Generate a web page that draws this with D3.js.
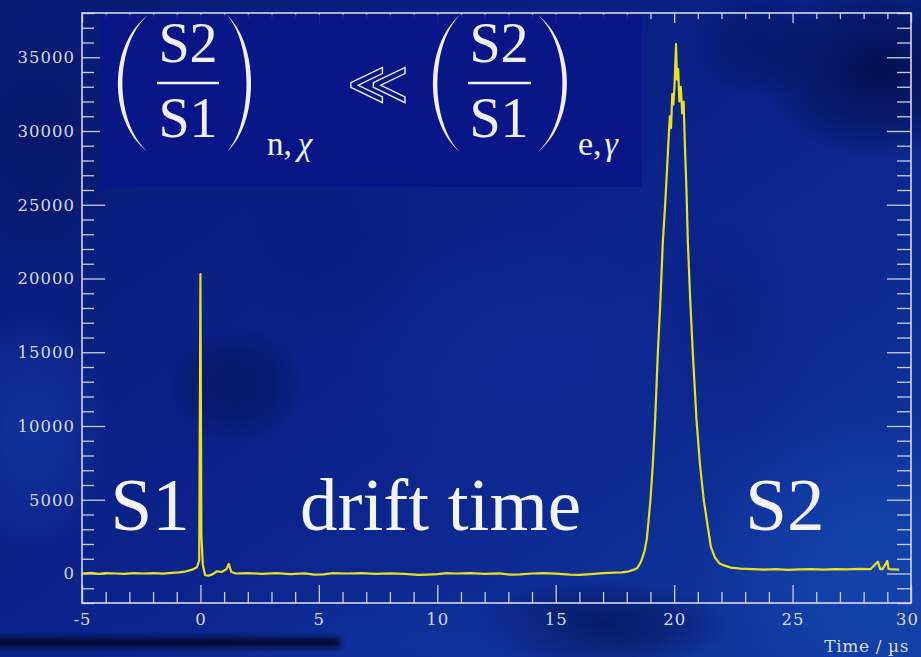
<!DOCTYPE html>
<html><head><meta charset="utf-8">
<script src="https://cdn.jsdelivr.net/npm/d3@7"></script>
<style>body{margin:0;background:#0b2088;} svg{display:block}</style>
</head><body><svg id="c" width="921" height="657"></svg>
<script>
// ---- data ----
const times = [
  -5.0,-4.6,-4.3,-4.0,-3.6,-3.2,-2.8,-2.4,-2.0,-1.6,-1.2,-0.9,-0.6,-0.35,-0.15,-0.05,
  0.0,0.04,0.1,0.2,0.35,0.5,0.7,0.9,1.1,1.2,1.3,1.5,
  2.0,2.6,3.2,3.8,4.4,4.8,5.2,5.6,6.2,6.8,7.4,8.0,8.6,9.2,9.6,10.0,10.4,10.8,
  11.4,12.0,12.6,13.1,13.5,14.0,14.5,15.0,15.6,16.0,16.5,17.0,17.5,17.8,18.1,
  18.3,18.45,18.6,18.75,18.85,19.0,19.1,19.2,19.31,19.42,19.52,19.62,19.7,19.76,
  19.82,19.87,19.92,19.97,20.02,20.08,20.12,20.17,20.22,20.28,20.34,20.4,20.45,
  20.52,20.58,20.68,20.79,20.94,21.09,21.25,21.38,21.55,21.72,21.9,22.1,22.4,
  22.8,23.3,23.8,24.3,24.8,25.3,25.8,26.3,26.8,27.3,27.8,28.3,28.6,28.7,28.8,
  29.0,29.05,29.1,29.5,30.0
];
const counts = [
  0,40,-30,20,0,-20,30,0,20,-10,40,80,150,260,420,900,
  20300,2600,600,-120,-150,-60,150,100,300,650,100,0,
  30,-20,20,-40,10,-80,-60,20,0,30,-20,10,-30,-90,-70,-40,20,0,
  30,-20,10,-80,-60,0,30,-10,-70,-90,-40,20,60,80,150,
  260,380,800,1500,2400,5000,7400,10500,14900,18500,22400,25000,27400,29300,
  31000,30200,32500,31800,33200,35900,33500,34200,32000,33000,31200,32000,29200,
  26000,22400,18500,14900,10500,7400,5000,3600,1800,1100,700,550,400,
  330,300,260,300,250,280,300,260,300,280,320,300,800,300,
  300,850,320,300,260
];
const xTicks = [-5,0,5,10,15,20,25,30];
const yTicks = [0,5000,10000,15000,20000,25000,30000,35000];
const xTitle = "Time / µs";
const peakLabels = [{t:"S1", x:-3.8}, {t:"drift time", x:4.2}, {t:"S2", x:23.0}];

// ---- drawing ----
const W = 921, H = 657;
const svg = d3.select("#c");
const x = d3.scaleLinear().domain([-5, 30]).range([82, 911]);
const y = d3.scaleLinear().domain([-2000, 38000]).range([603, 13]);

const defs = svg.append("defs");
const g1 = defs.append("linearGradient").attr("id","bg").attr("x1","0").attr("y1","0").attr("x2","1").attr("y2","1");
g1.append("stop").attr("offset","0").attr("stop-color","#081a74");
g1.append("stop").attr("offset","0.55").attr("stop-color","#0b248c");
g1.append("stop").attr("offset","1").attr("stop-color","#113aa0");
defs.append("filter").attr("id","blur2").attr("x","-50%").attr("y","-50%").attr("width","200%").attr("height","200%")
  .append("feGaussianBlur").attr("stdDeviation", 3);
defs.append("clipPath").attr("id","plot").append("rect")
  .attr("x", x(-5)).attr("y", y(38000)).attr("width", x(30)-x(-5)).attr("height", y(-2000)-y(38000));

svg.append("rect").attr("width",W).attr("height",H).attr("fill","url(#bg)");
const blobs = [
  [880,70,120,90,"#030a40",0.75],[760,45,70,55,"#05105a",0.6],[235,385,70,60,"#050f50",0.6],
  [600,625,130,45,"#040d48",0.6],[40,150,90,120,"#05125a",0.5],[470,90,90,70,"#071660",0.35],
  [870,560,170,150,"#1850bc",0.5],[30,430,80,120,"#1644b4",0.5],[420,640,200,45,"#1238a8",0.45],
  [520,360,170,130,"#0e2c9a",0.4],[330,250,100,90,"#081a78",0.4],[730,330,90,120,"#061670",0.35],
  [130,630,110,40,"#0a2390",0.4]
];
blobs.forEach((b,i)=>{
  const rg = defs.append("radialGradient").attr("id","rg"+i);
  rg.append("stop").attr("offset","0").attr("stop-color",b[4]).attr("stop-opacity",b[5]);
  rg.append("stop").attr("offset","0.55").attr("stop-color",b[4]).attr("stop-opacity",b[5]*0.6);
  rg.append("stop").attr("offset","1").attr("stop-color",b[4]).attr("stop-opacity",0);
});
svg.append("g").selectAll("ellipse").data(blobs).join("ellipse")
  .attr("cx",d=>d[0]).attr("cy",d=>d[1]).attr("rx",d=>d[2]).attr("ry",d=>d[3])
  .attr("fill",(d,i)=>`url(#rg${i})`);
// dark shadow band bottom-left
svg.append("rect").attr("x",-10).attr("y",638).attr("width",350).attr("height",9)
  .attr("fill","#000410").attr("opacity",0.85).attr("filter","url(#blur2)");

const tickCol = "#c9cedc";
const lblFont = "'DejaVu Serif', serif";
const minorY = d3.range(-2000, 38001, 1000).filter(v => v % 5000 !== 0);
const minorX = d3.range(-5, 30.01, 1).filter(v => v % 5 !== 0);
const fmt = d => String(d);

function styleAxis(g){
  g.select(".domain").remove();
  g.selectAll("line").attr("stroke", tickCol).attr("stroke-width", 1.3);
  g.selectAll("text").attr("fill", "#d6dae6").attr("font-family", lblFont)
    .attr("font-size", 16.5).attr("letter-spacing", 1.0);
}
// left
svg.append("g").attr("transform",`translate(${x(-5)},0)`)
  .call(d3.axisLeft(y).tickValues(yTicks).tickSize(-23).tickPadding(7).tickFormat(fmt)).call(styleAxis);
svg.append("g").attr("transform",`translate(${x(-5)},0)`)
  .call(d3.axisLeft(y).tickValues(minorY).tickSize(-12).tickFormat("")).call(styleAxis);
// right
svg.append("g").attr("transform",`translate(${x(30)},0)`)
  .call(d3.axisRight(y).tickValues(yTicks).tickSize(-24).tickFormat("")).call(styleAxis);
svg.append("g").attr("transform",`translate(${x(30)},0)`)
  .call(d3.axisRight(y).tickValues(minorY).tickSize(-14).tickFormat("")).call(styleAxis);
// bottom
const xb = svg.append("g").attr("transform",`translate(0,${y(-2000)})`)
  .call(d3.axisBottom(x).tickValues(xTicks).tickSize(-18).tickPadding(10).tickFormat(fmt)).call(styleAxis);
xb.selectAll("text").filter(d => d === 30).attr("dx", -4);
svg.append("g").attr("transform",`translate(0,${y(-2000)})`)
  .call(d3.axisBottom(x).tickValues(minorX).tickSize(-11).tickFormat("")).call(styleAxis);
// top
svg.append("g").attr("transform",`translate(0,${y(38000)})`)
  .call(d3.axisTop(x).tickValues(xTicks).tickSize(-10).tickFormat("")).call(styleAxis);
svg.append("g").attr("transform",`translate(0,${y(38000)})`)
  .call(d3.axisTop(x).tickValues(minorX).tickSize(-6).tickFormat("")).call(styleAxis);

// frame
svg.append("rect").attr("x", x(-5)).attr("y", y(38000)).attr("width", x(30)-x(-5)).attr("height", y(-2000)-y(38000))
  .attr("fill","none").attr("stroke","#d4d8e4").attr("stroke-width",1.6);

// x title
svg.append("text").attr("x", 909).attr("y", 652).attr("text-anchor","end")
  .attr("font-family", lblFont).attr("font-size", 17).attr("letter-spacing", 0.6)
  .attr("fill","#d6dae6").text(xTitle);

// formula box
const fb = svg.append("g");
fb.append("rect").attr("x",100).attr("y",14.5).attr("width",542).attr("height",172.5).attr("fill","#0b1588").attr("opacity",0.93);
const fcol = "#eef0f6";
function paren(xe, xm, y0, y1){
  const inner = xm + (xm > xe ? -4.5 : 4.5);
  const cx1 = xe + (xm - xe)*4/3, cx2 = xe + (inner - xe)*4/3;
  const a = y0 + (y1-y0)*0.22, b = y1 - (y1-y0)*0.22;
  return `M${xe},${y0} C${cx1},${a} ${cx1},${b} ${xe},${y1} C${cx2},${b} ${cx2},${a} ${xe},${y0} Z`;
}
[[148,118],[227,251],[460,433],[538,567]].forEach(p=>{
  fb.append("path").attr("d", paren(p[0], p[1], 15, 152)).attr("fill", fcol);
});
const serif = "'Liberation Serif', 'Times New Roman', serif";
[[188,157,219],[499,468,531]].forEach(f=>{
  fb.append("text").attr("x",f[0]).attr("y",62).attr("text-anchor","middle").attr("font-family",serif)
    .attr("font-size",56).attr("fill",fcol).text("S2");
  fb.append("line").attr("x1",f[1]).attr("x2",f[2]).attr("y1",83).attr("y2",83).attr("stroke",fcol).attr("stroke-width",2.6);
  fb.append("text").attr("x",f[0]).attr("y",137).attr("text-anchor","middle").attr("font-family",serif)
    .attr("font-size",56).attr("fill",fcol).text("S1");
});
const s1 = fb.append("text").attr("x",267).attr("y",155).attr("font-family",serif).attr("font-size",33).attr("fill",fcol);
s1.append("tspan").text("n,");
s1.append("tspan").attr("dx",6).attr("font-style","italic").text("χ");
const s2 = fb.append("text").attr("x",578).attr("y",155).attr("font-family",serif).attr("font-size",34).attr("fill",fcol);
s2.append("tspan").text("e,");
s2.append("tspan").attr("dx",3).attr("font-style","italic").text("γ");
fb.append("text").attr("x",378).attr("y",104).attr("text-anchor","middle").attr("font-family","'DejaVu Sans', sans-serif")
  .attr("font-size",60).attr("fill","none").attr("stroke",fcol).attr("stroke-width",1.3).text("≪");

// trace
const line = d3.line().x((d,i)=>x(times[i])).y(d=>y(d));
svg.append("path").datum(counts).attr("clip-path","url(#plot)").attr("d", line)
  .attr("fill","none").attr("stroke","#e8e020").attr("stroke-width",2.2).attr("stroke-linejoin","round");

// big labels
svg.append("g").selectAll("text").data(peakLabels).join("text")
  .attr("x", d => x(d.x)).attr("y", 530).attr("font-family", serif).attr("font-size", 75)
  .attr("fill", "#f4f4f6").text(d => d.t);
</script>
</body></html>
